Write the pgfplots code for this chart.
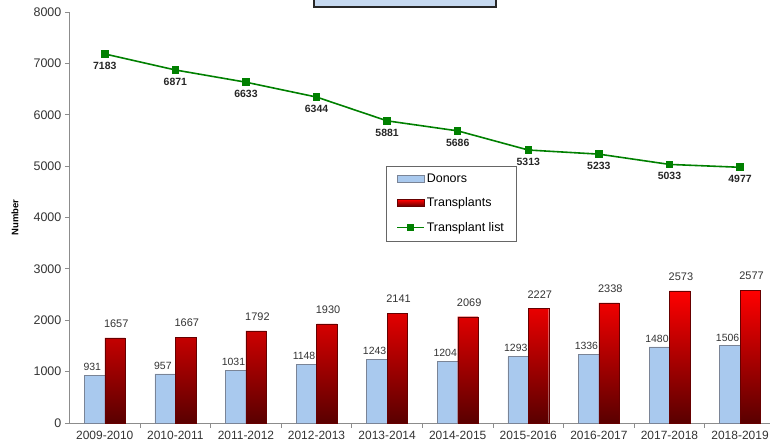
\documentclass[border=0pt]{standalone}
\usepackage{fontspec}
\setmainfont{Liberation Sans}
\usepackage{pgfplots}
\pgfplotsset{compat=1.18}
\definecolor{donor}{HTML}{A9C9EE}
\definecolor{donoredge}{HTML}{7A8496}
\definecolor{listgreen}{HTML}{008000}
\definecolor{axisgray}{HTML}{8C8C8C}
\definecolor{titlefill}{HTML}{C6D9F0}

\begin{document}
\begin{tikzpicture}
\begin{axis}[
  width=702pt, height=412pt, scale only axis,
  xmin=-0.495, xmax=9.427, ymin=0, ymax=8000,
  axis lines=left,
  axis line style={-, axisgray, line width=0.8pt},
  clip=false,
  xtick={0,...,9},
  xticklabels={2009-2010,2010-2011,2011-2012,2012-2013,2013-2014,2014-2015,2015-2016,2016-2017,2017-2018,2018-2019},
  major x tick style={draw=none},
  minor xtick={0.5,1.5,...,8.5},
  ytick={0,1000,...,8000},
  tick align=outside,
  tick style={axisgray, line width=0.8pt},
  major tick length=5pt, minor tick length=5pt,
  /pgf/number format/assume math mode=true,
  /pgf/number format/1000 sep={},
  xticklabel style={font=\fontsize{12}{14}\selectfont, text=black!80},
  yticklabel style={font=\fontsize{12.5}{14}\selectfont, text=black!80},
  ylabel={Number},
  every axis y label/.style={at={(axis description cs:0,0.5)}, xshift=-55pt, rotate=90, anchor=center},
  ylabel style={font=\bfseries\fontsize{9.5}{11}\selectfont},
  legend style={at={(0.4516,0.626)}, anchor=north west, draw=black!60,
    font=\fontsize{12.5}{14}\selectfont, row sep=10pt, inner xsep=10pt, inner ysep=6pt,
    cells={anchor=west}},
]
% Donors
\addplot[ybar, bar width=20.5pt, bar shift=-10.25pt, fill=donor, draw=donoredge,
  nodes near coords,
  every node near coord/.append style={font=\fontsize{10.5}{12}\selectfont, text=black!80, anchor=south, yshift=1pt, xshift=-12.5pt},
  legend image code/.code={\draw[fill=donor, draw=donoredge] (0pt,-3.5pt) rectangle (27pt,3.5pt);}]
coordinates {(0,931)(1,957)(2,1031)(3,1148)(4,1243)(5,1204)(6,1293)(7,1336)(8,1480)(9,1506)};
\addlegendentry{Donors}
% Transplants
\addplot[ybar, bar width=20.5pt, bar shift=10.25pt, top color=red, bottom color=red!35!black,
  draw=red!40!black,
  nodes near coords,
  every node near coord/.append style={font=\fontsize{11}{13}\selectfont, text=black!80, anchor=south, yshift=7pt, xshift=11.5pt},
  legend image code/.code={\draw[fill=red!90!black, draw=red!40!black] (0pt,-3.5pt) rectangle (27pt,3.5pt);}]
coordinates {(0,1657)(1,1667)(2,1792)(3,1930)(4,2141)(5,2069)(6,2227)(7,2338)(8,2573)(9,2577)};
\addlegendentry{Transplants}
% Transplant list
\addplot[listgreen, line width=1.6pt, mark=square*, mark size=3pt,
  nodes near coords,
  every node near coord/.append style={font=\bfseries\fontsize{10.5}{12}\selectfont, text=black!85, anchor=north, yshift=-4pt},
  legend image code/.code={\draw[listgreen, line width=1.6pt] (0pt,0pt) -- (27pt,0pt);
    \fill[listgreen] (10.5pt,-3pt) rectangle (16.5pt,3pt);}]
coordinates {(0,7183)(1,6871)(2,6633)(3,6344)(4,5881)(5,5686)(6,5313)(7,5233)(8,5033)(9,4977)};
\addlegendentry{Transplant list}
% title box, cut off at the top
\draw[overlay, fill=titlefill, draw=black!85, line width=1.6pt]
  (axis cs:2.968,8100) rectangle (axis cs:5.54,8800);
\end{axis}
\path ([xshift=-70pt,yshift=-24pt]current axis.south west) ([yshift=12pt]current axis.north east);
\end{tikzpicture}
\end{document}
